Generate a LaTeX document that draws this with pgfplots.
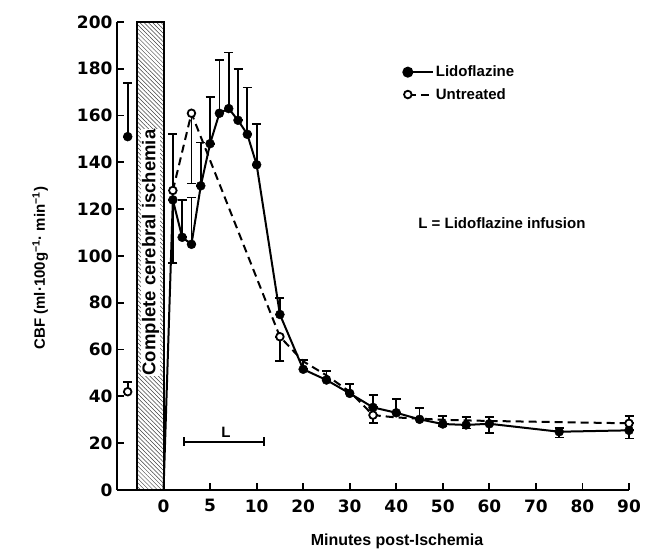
\documentclass[border=0pt]{standalone}
\usepackage{fontspec}
\setmainfont{Liberation Sans}
\newfontfamily\tickfont{DejaVu Sans}
\usepackage{pgfplots}
\pgfplotsset{compat=1.18}
\usetikzlibrary{patterns.meta,arrows.meta}
\pgfplotsset{
  myleg/.style={legend image code/.code={%
    \draw[##1,mark=none] (0pt,0pt) -- (25pt,0pt);
    \draw[##1] plot coordinates {(0pt,0pt)};}},
  lidoline/.style={black, line width=2pt, mark=none},
  untrline/.style={black, line width=2pt, mark=none, dash pattern=on 8pt off 5pt},
  lidomark/.style={black, only marks, mark=*, mark size=4.5pt, mark options={solid, fill=black}},
  untrmark/.style={black, only marks, mark=*, mark size=3.8pt, mark options={solid, fill=white, draw=black, line width=1.8pt}},
  myerr/.style={error bars/.cd, y dir=both, y explicit,
    error bar style={line width=1.8pt, solid},
    error mark options={rotate=90, mark size=4.5pt, line width=1.8pt, solid}},
}
\begin{document}
\begin{tikzpicture}
\begin{axis}[
  width=512pt, height=468pt, scale only axis,
  xmin=-5, xmax=90, ymin=0, ymax=200,
  x coord trafo/.code={\pgfmathparse{(#1<10.5) ? (2*#1) : (#1+10)}},
  axis x line=bottom, axis y line=left,
  axis line style={-, line width=2.2pt},
  xtick={0,5,10,20,30,40,50,60,70,80,90},
  xticklabels={0,5,10,20,30,40,50,60,70,80,90},
  ytick={0,20,...,200},
  tick align=inside,
  major tick length=7pt,
  tick style={line width=1.8pt, black},
  ticklabel style={font=\tickfont\bfseries\fontsize{17}{17}\selectfont},
  /pgf/number format/assume math mode=true,
  xticklabel style={yshift=-6pt},
  yticklabel style={xshift=-1pt},
  xlabel={Minutes post-Ischemia},
  xlabel style={at={(axis description cs:0.547,-0.109)}, anchor=center, font=\bfseries\fontsize{16}{16}\selectfont},
  ylabel={CBF (ml·100g\textsuperscript{−1}· min\textsuperscript{−1})},
  ylabel style={at={(axis description cs:-0.15,0.474)}, anchor=center, font=\bfseries\fontsize{15}{15}\selectfont},
  legend style={draw=none, fill=none, at={(axis description cs:0.553,0.915)}, anchor=north west,
    font=\bfseries\fontsize{15}{15}\selectfont, row sep=6pt},
  legend cell align=left,
  clip=false,
]
% ischemia bar
\fill[white] (axis cs:-2.8,0) rectangle (axis cs:0,200);
\fill[pattern={Lines[angle=-45, distance=3pt, line width=0.5pt]}, pattern color=black!75] (axis cs:-2.8,0) rectangle (axis cs:0,200);
\draw[line width=2pt] (axis cs:-2.8,0) rectangle (axis cs:0,200);
\node[rotate=90, fill=white, inner sep=1pt, font=\bfseries\fontsize{18.5}{18.5}\selectfont] at (axis cs:-1.4,101.5) {Complete cerebral ischemia};

\addlegendimage{lidoline, mark=*, mark size=4.5pt, mark options={solid, fill=black}, myleg}
\addlegendentry{Lidoflazine}
\addlegendimage{untrline, mark=*, mark size=3.8pt, mark options={solid, fill=white, draw=black, line width=1.8pt}, myleg}
\addlegendentry{Untreated}

% Untreated line
\addplot[untrline, forget plot] coordinates {
(1,128) (3,161) (15,65.5) (20,55) (25,49) (30,42) (35,32) (40,31) (45,30.5) (50,30) (60,29.5) (75,29) (90,28.5)};
% Lidoflazine line
\addplot[lidoline, forget plot] coordinates {
(0,0) (1,124) (2,108) (3,105) (4,130) (5,148) (6,161) (7,163) (8,158) (9,152) (10,139)
(15,75) (20,51.6) (25,47) (30,41.3) (35,35.3) (40,33) (45,30.2) (50,28.2) (55,27.8) (60,28.3) (75,24.9) (90,25.5)};
% Lidoflazine marks
\addplot[lidomark, forget plot, myerr] coordinates {
(-3.85,151) += (0,23) -= (0,0)
(1,124) += (0,0) -= (0,27)
(2,108) += (0,16) -= (0,0)
(3,105) += (0,20) -= (0,0)
(4,130) += (0,18.5) -= (0,0)
(5,148) += (0,20) -= (0,0)
(6,161) += (0,22.6) -= (0,0)
(7,163) += (0,24) -= (0,0)
(8,158) += (0,22) -= (0,0)
(9,152) += (0,20) -= (0,0)
(10,139) += (0,17.5) -= (0,0)
(15,75) += (0,7) -= (0,0)
(20,51.6) += (0,4) -= (0,0)
(25,47) += (0,4) -= (0,0)
(30,41.3) += (0,4) -= (0,0)
(35,35.3) += (0,5.3) -= (0,0)
(40,33) += (0,6) -= (0,0)
(45,30.2) += (0,4.8) -= (0,0)
(50,28.2) += (0,3.4) -= (0,1)
(55,27.8) += (0,3.5) -= (0,1.5)
(60,28.3) += (0,3) -= (0,4)
(75,24.9) += (0,1.5) -= (0,2.5)
(90,25.5) += (0,0) -= (0,3.5)};
% Untreated marks
\addplot[untrmark, forget plot, myerr] coordinates {
(-3.85,42) += (0,4) -= (0,0)
(1,128) += (0,24) -= (0,0)
(3,161) += (0,0) -= (0,30)
(15,65.5) += (0,0) -= (0,10.5)
(35,32) += (0,0) -= (0,3.5)
(90,28.5) += (0,3) -= (0,0)};

% Lidoflazine infusion bar
\draw[line width=2pt, {Bar[width=9pt]}-{Bar[width=9pt]}] (axis cs:2.1,20.7) -- (axis cs:11.9,20.7);
\node[font=\bfseries\fontsize{15}{15}\selectfont] at (axis cs:6.7,24.8) {L};
\node[font=\bfseries\fontsize{15}{15}\selectfont] at (axis cs:62.7,114) {L = Lidoflazine infusion};
\end{axis}
\path ([xshift=-117pt,yshift=-63pt]current axis.south west) rectangle ([xshift=23pt,yshift=22pt]current axis.north east);
\end{tikzpicture}
\end{document}
